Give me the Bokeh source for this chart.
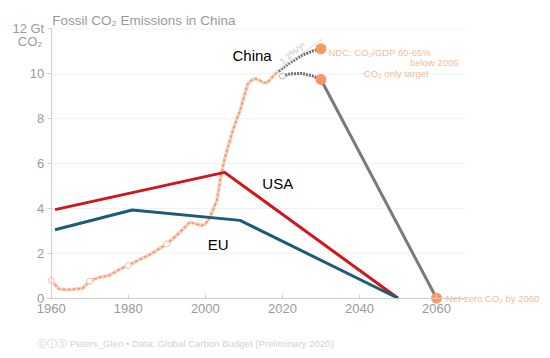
from bokeh.plotting import figure
from bokeh.models import Label, Range1d, FixedTicker
from bokeh.embed import file_html
from bokeh.resources import INLINE

# ---------------- data ----------------
china_years = [1960, 1962, 1964, 1967, 1968, 1970, 1972, 1975, 1978, 1980, 1982, 1986,
               1990, 1993, 1996, 1999, 2000, 2001, 2003, 2004, 2005, 2006, 2007, 2008,
               2009, 2010, 2011, 2012, 2013, 2014, 2015, 2016, 2017, 2018, 2019]
china_vals = [0.79, 0.42, 0.37, 0.42, 0.42, 0.76, 0.91, 1.01, 1.31, 1.46, 1.64, 1.98,
              2.42, 2.87, 3.39, 3.24, 3.31, 3.54, 4.35, 5.40, 6.20, 6.80, 7.40, 7.90,
              8.36, 8.96, 9.55, 9.72, 9.78, 9.72, 9.62, 9.60, 9.78, 9.97, 10.12]
china_marker_years = [1960, 1970, 1980, 1990]

ndc_years = [2019, 2022, 2025, 2028, 2030]
ndc_vals = [10.12, 10.50, 10.82, 11.03, 11.12]
co2_years = [2020, 2022, 2025, 2028, 2030]
co2_vals = [9.90, 10.00, 10.02, 9.90, 9.75]
path_years = [2030, 2060]
path_vals = [9.75, 0.0]
target_years = [2030, 2030, 2060]
target_vals = [11.12, 9.75, 0.0]

usa_years = [1961, 2005, 2050]
usa_vals = [3.95, 5.61, 0.0]
eu_years = [1961, 1981, 2009, 2050]
eu_vals = [3.05, 3.93, 3.47, 0.0]

y_ticks = [0, 2, 4, 6, 8, 10, 12]
x_ticks = [1960, 1980, 2000, 2020, 2040, 2060]
X0, X1 = 1960, 2067.5   # plotted domain
Y0, Y1 = 0, 12

FONT = "Liberation Sans"
GREY_TXT = "#9a9a9a"
ANNOT = "#f4bc9c"
ORANGE = "#f79868"

p = figure(width=542, height=350, output_backend="svg", toolbar_location=None,
           x_range=Range1d(1946.84, 2087.5), y_range=Range1d(-2.33, 13.27),
           min_border=0)
p.outline_line_color = None
p.background_fill_color = "white"
p.xgrid.visible = False
p.ygrid.visible = False

# grid lines only across the plotted domain
gy = [t for t in y_ticks if t > Y0]
p.segment(x0=[X0] * len(gy), y0=gy, x1=[X1] * len(gy), y1=gy,
          line_color="#f1f1f1", line_width=1)

p.xaxis.ticker = FixedTicker(ticks=x_ticks)
p.yaxis.ticker = FixedTicker(ticks=y_ticks)
p.xaxis.fixed_location = Y0
p.yaxis.fixed_location = X0
p.xaxis.bounds = (X0, X1)
p.yaxis.bounds = (Y0, Y1)
p.yaxis.major_label_overrides = {12: "12 Gt"}
for ax in (p.xaxis[0], p.yaxis[0]):
    ax.axis_line_color = "#cfcfcf"
    ax.major_tick_line_color = "#cfcfcf"
    ax.minor_tick_line_color = None
    ax.major_label_text_color = GREY_TXT
    ax.major_label_text_font = FONT
    ax.major_label_text_font_size = "13px"
p.yaxis.major_tick_out = 4
p.yaxis.major_tick_in = 0
p.yaxis.major_label_standoff = 3
p.xaxis.major_tick_out = 0
p.xaxis.major_tick_in = 4
p.xaxis.major_label_standoff = 6

# China history
p.line(china_years, china_vals, line_color="#f9d3c2", line_width=3.5)
p.line(china_years, china_vals, line_color="#ef a07f".replace(" ", ""), line_width=2, line_dash="3 2")
mk = [v for y, v in zip(china_years, china_vals) if y in china_marker_years]
p.scatter(china_marker_years, mk, size=6, fill_color="white", line_color="#f5c0a8", line_width=1)

# USA / EU
p.line(usa_years, usa_vals, line_color="#d0161b", line_width=3)
p.line(eu_years, eu_vals, line_color="#1d5c72", line_width=3)

# China future
p.line(ndc_years, ndc_vals, line_color="#6f6f6f", line_width=3, line_dash="2 1")
p.line(co2_years, co2_vals, line_color="#6f6f6f", line_width=3, line_dash="2 1")
p.scatter([co2_years[0]], [co2_vals[0]], size=6, fill_color="white", line_color="#bbbbbb", line_width=1)
p.line(path_years, path_vals, line_color="#7a7a7a", line_width=3)
p.scatter(target_years, target_vals, size=11, fill_color=ORANGE, line_color=None)

# 1.2%/yr annotation
p.segment(x0=[2018.8], y0=[10.15], x1=[2030.4], y1=[11.55], line_color="#dddddd", line_width=1)
p.add_layout(Label(x=2022.6, y=10.93, text="1.2%/yr", angle=0.70, text_align="center",
                   text_baseline="middle", text_font=FONT, text_font_size="9px",
                   text_color="#c8c8c8"))

def lab(x, y, t, size, color, align="left", baseline="middle"):
    p.add_layout(Label(x=x, y=y, text=t, text_font=FONT, text_font_size=size,
                       text_color=color, text_align=align, text_baseline=baseline))

lab(2007.05, 10.82, "China", "15px", "black")
lab(2014.8, 5.11, "USA", "15px", "black")
lab(2000.6, 2.39, "EU", "15px", "black")
lab(2031.95, 10.95, "NDC: CO₂/GDP 60-65%", "9.5px", ANNOT)
lab(2065.7, 10.5, "below 2005", "9.5px", ANNOT, align="right")
lab(2057.97, 10.01, "CO₂ only target", "9.5px", ANNOT, align="right")
lab(2062.4, 0.0, "Net-zero CO₂ by 2060", "9.5px", ANNOT)

# title and other outside texts
lab(1960.3, 12.38, "Fossil CO₂ Emissions in China", "13.5px", GREY_TXT)
lab(1957.7, 11.45, "CO₂", "13px", GREY_TXT, align="right")
lab(1956.4, -2.02, "ⓒⓘⓢ Peters_Glen  •  Data: Global Carbon Budget (Preliminary 2020)", "9.6px", "#d2d2d2")

open("out.html", "w").write(file_html(p, INLINE))
